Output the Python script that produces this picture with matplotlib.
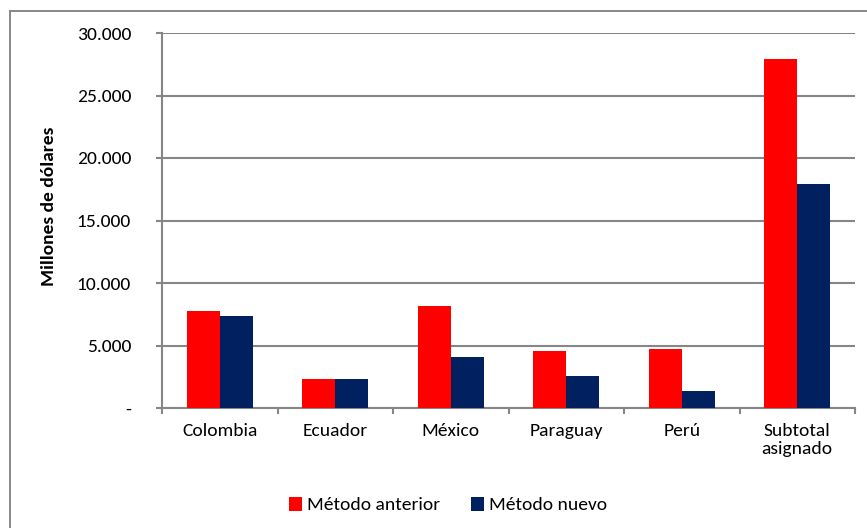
import numpy as np
import matplotlib
matplotlib.use('Agg')
import matplotlib.pyplot as plt
from matplotlib.patches import Rectangle
import matplotlib.ticker as ticker

plt.rcParams['font.family'] = ['Carlito', 'Lato', 'DejaVu Sans']

# ─── DATA ─────────────────────────────────────────────────────────────────────
categories = ['Colombia', 'Ecuador', 'México', 'Paraguay', 'Perú', 'Subtotal\nasignado']
metodo_anterior = [7800, 2350, 8200, 4600, 4700, 27950]
metodo_nuevo    = [7330, 2350, 4090, 2590, 1340, 17910]
series_labels = ['Método anterior', 'Método nuevo']
y_ticks = [0, 5000, 10000, 15000, 20000, 25000, 30000]

RED, NAVY, GRID = '#FF0000', '#002060', '#868686'
FS = 14

W, H = 867, 528
fig = plt.figure(figsize=(W / 100, H / 100), dpi=100)
ax = fig.add_axes([162 / W, 1 - 408 / H, (855 - 162) / W, (408 - 33) / H])

# outer chart border
fig.patches.append(Rectangle((10 / W, -0.01), 1.0, 1 - 11 / H + 0.01,
                             transform=fig.transFigure, fill=False,
                             edgecolor='#888888', linewidth=1.4))

x = np.arange(len(categories))
w = 0.285
ax.bar(x - w / 2, metodo_anterior, w, color=RED, label=series_labels[0], zorder=3)
ax.bar(x + w / 2, metodo_nuevo, w, color=NAVY, label=series_labels[1], zorder=3)

ax.set_xlim(-0.5, len(categories) - 0.5)
ax.set_ylim(0, 30000)
ax.set_yticks(y_ticks)
ax.yaxis.set_major_formatter(ticker.FuncFormatter(
    lambda v, p: '-' if v == 0 else f'{int(v):,}'.replace(',', '.')))
ax.grid(axis='y', color=GRID, linewidth=1.5, zorder=0)

ax.set_xticks(x)
ax.set_xticklabels(categories, fontsize=FS, linespacing=1.15)
ax.set_xticks(np.arange(len(categories) + 1) - 0.5, minor=True)
ax.tick_params(axis='x', which='major', length=0, pad=11)
ax.tick_params(axis='x', which='minor', length=4.3, width=1.5, color=GRID)
ax.tick_params(axis='y', length=4.3, width=1.5, color=GRID, labelsize=FS, pad=18)

for s in ['top', 'right']:
    ax.spines[s].set_visible(False)
for s in ['left', 'bottom']:
    ax.spines[s].set_color(GRID)
    ax.spines[s].set_linewidth(1.5)

fig.text(49 / W, 1 - 206 / H, 'Millones de dólares', rotation=90,
         ha='center', va='center', fontsize=FS, fontweight='bold')

fig.legend(loc='center', bbox_to_anchor=(448 / W, 1 - 505 / H), ncol=2,
           frameon=False, fontsize=FS, handlelength=0.65, handleheight=0.75,
           handletextpad=0.25, columnspacing=1.6)

fig.savefig('out.png', dpi=100)
